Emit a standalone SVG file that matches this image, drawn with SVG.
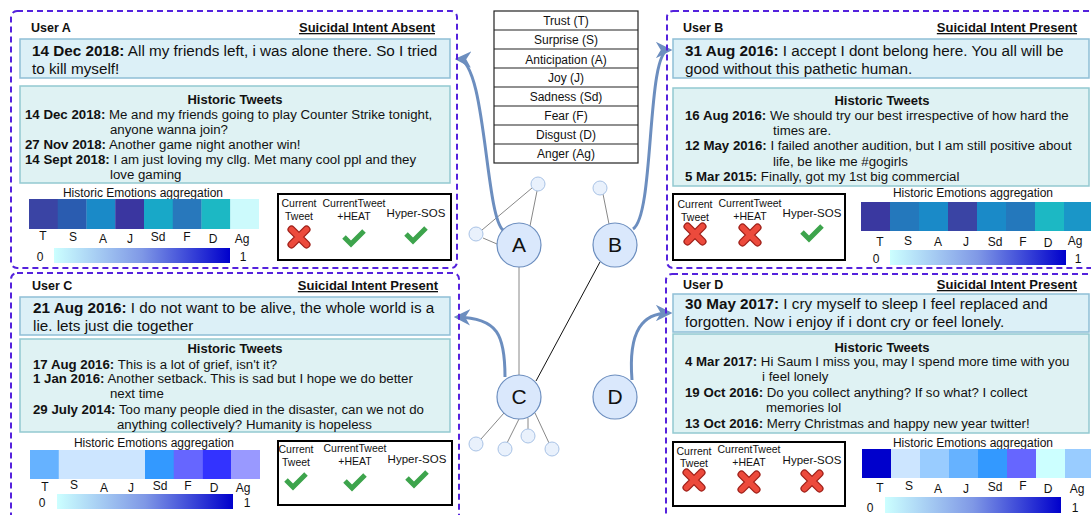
<svg xmlns="http://www.w3.org/2000/svg" width="1091" height="515" viewBox="0 0 1091 515">
<style>
text{font-family:"Liberation Sans",Arial,sans-serif;fill:#111}
.panel{fill:none;stroke:#5522dd;stroke-width:2;stroke-dasharray:6 4}
.cur{fill:#dcf0f7;stroke:#8fbfd6;stroke-width:1.5}
.hist{fill:#dff2f3;stroke:#93c9d1;stroke-width:1.5}
.user{font-size:12.5px;font-weight:bold}
.intent{font-size:13px;font-weight:bold;text-decoration:underline;text-anchor:end}
.ct{font-size:15.25px}
.ht{font-size:13.25px}
.hh{font-size:13px;font-weight:bold;text-anchor:middle}
.b{font-weight:bold}
.agg{font-size:12px;text-anchor:middle}
.lab{font-size:12px;text-anchor:middle}
.res{fill:#fff;stroke:#000;stroke-width:2}
.rl{font-size:10.5px;text-anchor:middle}
.rh{font-size:11.5px;text-anchor:middle}
.leg{fill:#fff;stroke:#222;stroke-width:1.2}
.lt{font-size:12px;text-anchor:middle}
.mnode{fill:#dae8fc;stroke:#6c8ebf;stroke-width:1.2}
.snode{fill:#e9f1fc;stroke:#a9c3e6;stroke-width:1}
.nl{font-size:21px;text-anchor:middle}
.edge{stroke:#888;stroke-width:1;fill:none}
.conn{fill:none;stroke:#6c8ebf;stroke-width:3}
</style>
<defs>
<linearGradient id="cb" x1="0" x2="1" y1="0" y2="0">
<stop offset="0" stop-color="#ccffff"/>
<stop offset="0.5" stop-color="#7f98e6"/>
<stop offset="1" stop-color="#0000cc"/>
</linearGradient>
<marker id="arr" viewBox="0 0 10 10" refX="8" refY="5" markerWidth="5.5" markerHeight="5.5" orient="auto">
<path d="M0,0 L10,5 L0,10 L3,5 Z" fill="#6c8ebf"/>
</marker>
<g id="xm">
<path d="M-7.5,-7.5 L7.5,7.5 M7.5,-7.5 L-7.5,7.5" stroke="#9e1f18" stroke-width="8" stroke-linecap="round"/>
<path d="M-7.5,-7.5 L7.5,7.5 M7.5,-7.5 L-7.5,7.5" stroke="#ec4a3c" stroke-width="5.5" stroke-linecap="round"/>
</g>
<g id="ck">
<path d="M-10,-1 L-3,6 L10,-7" stroke="#3da44c" stroke-width="5" fill="none" stroke-linejoin="miter"/>
</g>
</defs>
<rect width="1091" height="515" fill="#fff"/>

<g id="legend">
<rect class="leg" x="494" y="11" width="144" height="152"/>
<path d="M494,30H638M494,49H638M494,68H638M494,87H638M494,106H638M494,125H638M494,144H638" stroke="#222" stroke-width="1.2"/>
<text class="lt" x="566" y="25">Trust (T)</text>
<text class="lt" x="566" y="44">Surprise (S)</text>
<text class="lt" x="566" y="64">Anticipation (A)</text>
<text class="lt" x="566" y="82">Joy (J)</text>
<text class="lt" x="566" y="101">Sadness (Sd)</text>
<text class="lt" x="566" y="120">Fear (F)</text>
<text class="lt" x="566" y="139">Disgust (D)</text>
<text class="lt" x="566" y="158">Anger (Ag)</text>
</g>

<g id="connectors">
<line class="edge" x1="519" y1="267" x2="519" y2="375"/>
<line x1="600" y1="262" x2="536" y2="381" stroke="#111" stroke-width="1"/>
<line class="edge" x1="530" y1="226" x2="537" y2="191"/>
<line class="edge" x1="482" y1="230" x2="532" y2="188"/>
<line class="edge" x1="483" y1="238" x2="497" y2="244"/>
<line class="edge" x1="603" y1="194" x2="609" y2="224"/>
<line class="edge" x1="504" y1="413" x2="481" y2="439"/>
<line class="edge" x1="519" y1="419" x2="507" y2="443"/>
<line class="edge" x1="528" y1="418" x2="528" y2="429"/>
<line class="edge" x1="535" y1="413" x2="549" y2="443"/>
<path class="conn" d="M503,230 C485,215 486,60 458,59" marker-end="url(#arr)"/>
<path class="conn" d="M633,229 C655,215 646,50 669,50" marker-end="url(#arr)"/>
<path class="conn" d="M505,377 C505,335 498,318 457,317" marker-end="url(#arr)"/>
<path class="conn" d="M632,380 C628,330 643,313 669,313" marker-end="url(#arr)"/>
</g>

<g id="node-A"><circle class="mnode" cx="519" cy="245" r="22"/><text class="nl" x="519" y="252">A</text></g>
<g id="node-B"><circle class="mnode" cx="615" cy="245" r="22"/><text class="nl" x="615" y="252">B</text></g>
<g id="node-C"><circle class="mnode" cx="519" cy="397" r="22"/><text class="nl" x="519" y="404">C</text></g>
<g id="node-D"><circle class="mnode" cx="615" cy="397" r="22"/><text class="nl" x="615" y="404">D</text></g>
<g id="node-a1"><circle class="snode" cx="538" cy="184" r="7"/></g>
<g id="node-a2"><circle class="snode" cx="476" cy="234" r="7"/></g>
<g id="node-b1"><circle class="snode" cx="600" cy="188" r="7"/></g>
<g id="node-c1"><circle class="snode" cx="476" cy="444" r="7"/></g>
<g id="node-c2"><circle class="snode" cx="505" cy="449" r="7"/></g>
<g id="node-c3"><circle class="snode" cx="528" cy="436" r="7"/></g>
<g id="node-c4"><circle class="snode" cx="552" cy="449" r="7"/></g>

<g id="panel-A">
<rect class="panel" x="11" y="11" width="446" height="257" rx="6"/>
<text class="user" x="31" y="32">User A</text>
<text class="intent" x="435" y="32">Suicidal Intent Absent</text>
<rect class="cur" x="20" y="39" width="430" height="39"/>
<text class="ct" x="32" y="56"><tspan class="b">14 Dec 2018:</tspan> All my friends left, i was alone there. So I tried</text>
<text class="ct" x="32" y="74">to kill myself!</text>
<rect class="hist" x="20" y="86" width="430" height="97"/>
<text class="hh" x="235" y="104">Historic Tweets</text>
<text class="ht" x="25" y="119"><tspan class="b">14 Dec 2018:</tspan> Me and my friends going to play Counter Strike tonight,</text>
<text class="ht" x="110" y="134">anyone wanna join?</text>
<text class="ht" x="25" y="149"><tspan class="b">27 Nov 2018:</tspan> Another game night another win!</text>
<text class="ht" x="25" y="164"><tspan class="b">14 Sept 2018:</tspan> I am just loving my cllg. Met many cool ppl and they</text>
<text class="ht" x="110" y="179">love gaming</text>
<text class="agg" x="143" y="197">Historic Emotions aggregation</text>
<rect x="29" y="199" width="29" height="30" fill="#3a44a4"/>
<rect x="57.75" y="199" width="29" height="30" fill="#2a5cb0"/>
<rect x="86.5" y="199" width="29" height="30" fill="#1a8ac8"/>
<rect x="115.25" y="199" width="29" height="30" fill="#3a36a0"/>
<rect x="144" y="199" width="29" height="30" fill="#18a8c8"/>
<rect x="172.75" y="199" width="29" height="30" fill="#2878bc"/>
<rect x="201.5" y="199" width="29" height="30" fill="#1cb8c4"/>
<rect x="230.25" y="199" width="28.75" height="30" fill="#ccfafc"/>
<text class="lab" x="43" y="240">T</text><text class="lab" x="73" y="241">S</text><text class="lab" x="103" y="243">A</text><text class="lab" x="130" y="243">J</text><text class="lab" x="158" y="241">Sd</text><text class="lab" x="187" y="241">F</text><text class="lab" x="213" y="243">D</text><text class="lab" x="242" y="243">Ag</text>
<text class="lab" x="40" y="261">0</text>
<rect x="54" y="248" width="176" height="15" fill="url(#cb)"/>
<text class="lab" x="243" y="261">1</text>
<rect class="res" x="278" y="194" width="173" height="66"/>
<text class="rl" x="299" y="207">Current</text><text class="rl" x="299" y="220">Tweet</text>
<text class="rl" x="354" y="207">CurrentTweet</text><text class="rl" x="354" y="220">+HEAT</text>
<text class="rh" x="416" y="217">Hyper-SOS</text>
<use href="#xm" x="299" y="237"/><use href="#ck" x="354" y="238"/><use href="#ck" x="416" y="235"/>
</g>

<g id="panel-B">
<rect class="panel" x="667" y="11" width="440" height="257" rx="6"/>
<text class="user" x="683" y="32">User B</text>
<text class="intent" x="1077" y="32">Suicidal Intent Present</text>
<rect class="cur" x="673" y="39" width="416" height="39"/>
<text class="ct" x="685" y="56"><tspan class="b">31 Aug 2016:</tspan> I accept I dont belong here. You all will be</text>
<text class="ct" x="685" y="74">good without this pathetic human.</text>
<rect class="hist" x="673" y="88" width="416" height="98"/>
<text class="hh" x="882" y="105">Historic Tweets</text>
<text class="ht" x="685" y="120"><tspan class="b">16 Aug 2016:</tspan> We should try our best irrespective of how hard the</text>
<text class="ht" x="773" y="135">times are.</text>
<text class="ht" x="685" y="150"><tspan class="b">12 May 2016:</tspan> I failed another audition, but I am still positive about</text>
<text class="ht" x="773" y="166">life, be like me #gogirls</text>
<text class="ht" x="685" y="181"><tspan class="b">5 Mar 2015:</tspan> Finally, got my 1st big commercial</text>
<rect class="res" x="673" y="194" width="172" height="66"/>
<text class="rl" x="695" y="208">Current</text><text class="rl" x="695" y="221">Tweet</text>
<text class="rl" x="750" y="207">CurrentTweet</text><text class="rl" x="750" y="220">+HEAT</text>
<text class="rh" x="812" y="217">Hyper-SOS</text>
<use href="#xm" x="695" y="234"/><use href="#xm" x="750" y="235"/><use href="#ck" x="812" y="233"/>
<text class="agg" x="973" y="197">Historic Emotions aggregation</text>
<rect x="861" y="202" width="29.5" height="29" fill="#3a38a0"/>
<rect x="890" y="202" width="29.5" height="29" fill="#2478bc"/>
<rect x="919" y="202" width="29.5" height="29" fill="#1a8ac8"/>
<rect x="948" y="202" width="29.5" height="29" fill="#3a44a4"/>
<rect x="977" y="202" width="29.5" height="29" fill="#1a8ac8"/>
<rect x="1006" y="202" width="29.5" height="29" fill="#2478bc"/>
<rect x="1035" y="202" width="29.5" height="29" fill="#1cb8c4"/>
<rect x="1064" y="202" width="29" height="29" fill="#1a96c8"/>
<text class="lab" x="880" y="246">T</text><text class="lab" x="908" y="245">S</text><text class="lab" x="938" y="246">A</text><text class="lab" x="966" y="246">J</text><text class="lab" x="995" y="246">Sd</text><text class="lab" x="1023" y="246">F</text><text class="lab" x="1048" y="247">D</text><text class="lab" x="1075" y="245">Ag</text>
<text class="lab" x="876" y="263">0</text>
<rect x="890" y="250" width="176" height="15" fill="url(#cb)"/>
<text class="lab" x="1078" y="263">1</text>
</g>

<g id="panel-C">
<rect class="panel" x="11" y="273" width="448" height="252" rx="6"/>
<text class="user" x="32" y="290">User C</text>
<text class="intent" x="438" y="290">Suicidal Intent Present</text>
<rect class="cur" x="20" y="297" width="430" height="38"/>
<text class="ct" x="33" y="313"><tspan class="b">21 Aug 2016:</tspan> I do not want to be alive, the whole world is a</text>
<text class="ct" x="33" y="331">lie. lets just die together</text>
<rect class="hist" x="20" y="339" width="430" height="93"/>
<text class="hh" x="235" y="353">Historic Tweets</text>
<text class="ht" x="33" y="369"><tspan class="b">17 Aug 2016:</tspan> This is a lot of grief, isn't it?</text>
<text class="ht" x="33" y="383"><tspan class="b">1 Jan 2016:</tspan> Another setback. This is sad but I hope we do better</text>
<text class="ht" x="110" y="398">next time</text>
<text class="ht" x="33" y="414"><tspan class="b">29 July 2014:</tspan> Too many people died in the disaster, can we not do</text>
<text class="ht" x="117" y="429">anything collectively? Humanity is hopeless</text>
<text class="agg" x="154" y="447">Historic Emotions aggregation</text>
<rect x="30" y="450" width="29" height="29" fill="#66b2ff"/>
<rect x="58.75" y="450" width="87" height="29" fill="#cce5ff"/>
<rect x="145" y="450" width="29" height="29" fill="#3399ff"/>
<rect x="173.75" y="450" width="29" height="29" fill="#6666ff"/>
<rect x="202.5" y="450" width="29" height="29" fill="#3333ff"/>
<rect x="231.25" y="450" width="28.75" height="29" fill="#9999ff"/>
<text class="lab" x="45" y="491">T</text><text class="lab" x="74" y="489">S</text><text class="lab" x="104" y="492">A</text><text class="lab" x="131" y="492">J</text><text class="lab" x="160" y="490">Sd</text><text class="lab" x="188" y="490">F</text><text class="lab" x="214" y="492">D</text><text class="lab" x="243" y="492">Ag</text>
<text class="lab" x="42" y="507">0</text>
<rect x="57" y="494" width="176" height="15" fill="url(#cb)"/>
<text class="lab" x="247" y="507">1</text>
<rect class="res" x="278" y="441" width="174" height="64"/>
<text class="rl" x="296" y="453">Current</text><text class="rl" x="296" y="466">Tweet</text>
<text class="rl" x="355" y="452">CurrentTweet</text><text class="rl" x="355" y="465">+HEAT</text>
<text class="rh" x="417" y="463">Hyper-SOS</text>
<use href="#ck" x="296" y="481"/><use href="#ck" x="355" y="482"/><use href="#ck" x="417" y="479"/>
</g>

<g id="panel-D">
<rect class="panel" x="666" y="274" width="440" height="252" rx="6"/>
<text class="user" x="683" y="289">User D</text>
<text class="intent" x="1077" y="289">Suicidal Intent Present</text>
<rect class="cur" x="673" y="294" width="416" height="38"/>
<text class="ct" x="685" y="309"><tspan class="b">30 May 2017:</tspan> I cry myself to sleep I feel replaced and</text>
<text class="ct" x="685" y="327">forgotten. Now i enjoy if i dont cry or feel lonely.</text>
<rect class="hist" x="673" y="334" width="416" height="99"/>
<text class="hh" x="882" y="352">Historic Tweets</text>
<text class="ht" x="685" y="366"><tspan class="b">4 Mar 2017:</tspan> Hi Saum I miss you, may I spend more time with you</text>
<text class="ht" x="762" y="381">i feel lonely</text>
<text class="ht" x="685" y="397"><tspan class="b">19 Oct 2016:</tspan> Do you collect anything? If so what? I collect</text>
<text class="ht" x="766" y="412">memories lol</text>
<text class="ht" x="685" y="428"><tspan class="b">13 Oct 2016:</tspan> Merry Christmas and happy new year twitter!</text>
<rect class="res" x="673" y="442" width="172" height="64"/>
<text class="rl" x="694" y="455">Current</text><text class="rl" x="694" y="467">Tweet</text>
<text class="rl" x="749" y="453">CurrentTweet</text><text class="rl" x="749" y="466">+HEAT</text>
<text class="rh" x="812" y="464">Hyper-SOS</text>
<use href="#xm" x="694" y="480"/><use href="#xm" x="749" y="482"/><use href="#xm" x="812" y="481"/>
<text class="agg" x="973" y="447">Historic Emotions aggregation</text>
<rect x="862" y="449" width="29.5" height="29" fill="#0000cc"/>
<rect x="891" y="449" width="29.5" height="29" fill="#cce5ff"/>
<rect x="920" y="449" width="29.5" height="29" fill="#99ccff"/>
<rect x="949" y="449" width="29.5" height="29" fill="#66b2ff"/>
<rect x="978" y="449" width="29.5" height="29" fill="#3399ff"/>
<rect x="1007" y="449" width="29.5" height="29" fill="#6666ff"/>
<rect x="1036" y="449" width="29.5" height="29" fill="#ccffff"/>
<rect x="1065" y="449" width="29" height="29" fill="#99ccff"/>
<text class="lab" x="880" y="492">T</text><text class="lab" x="909" y="490">S</text><text class="lab" x="938" y="493">A</text><text class="lab" x="966" y="493">J</text><text class="lab" x="995" y="491">Sd</text><text class="lab" x="1023" y="490">F</text><text class="lab" x="1048" y="493">D</text><text class="lab" x="1077" y="493">Ag</text>
<text class="lab" x="870" y="512">0</text>
<rect x="885" y="497" width="176" height="16" fill="url(#cb)"/>
<text class="lab" x="1075" y="512">1</text>
</g>
</svg>
